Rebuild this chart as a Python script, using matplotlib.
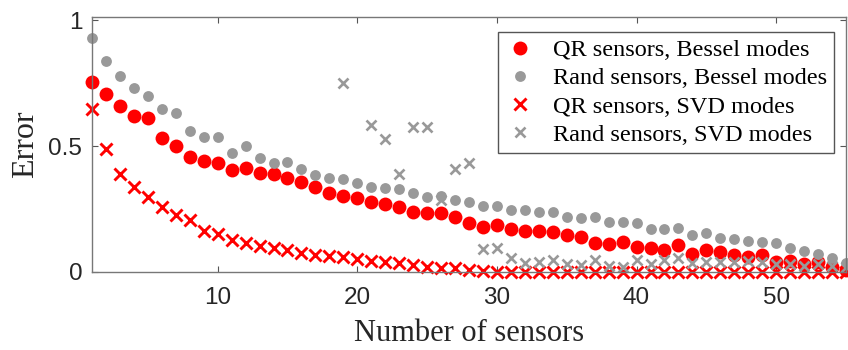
import numpy as np
import matplotlib
matplotlib.use('Agg')
import matplotlib.pyplot as plt

# number of sensors 1..55
n_sensors = list(range(1, 56))

# QR sensors, Bessel modes
qr_bessel = [0.755, 0.705, 0.659, 0.619, 0.612, 0.533, 0.501, 0.458, 0.440, 0.431,
             0.405, 0.414, 0.392, 0.388, 0.372, 0.358, 0.339, 0.315, 0.302, 0.292,
             0.279, 0.270, 0.259, 0.239, 0.235, 0.236, 0.219, 0.194, 0.177, 0.187,
             0.169, 0.163, 0.162, 0.159, 0.145, 0.140, 0.116, 0.111, 0.120, 0.098,
             0.094, 0.087, 0.107, 0.071, 0.087, 0.081, 0.066, 0.058, 0.068, 0.041,
             0.045, 0.032, 0.041, 0.020, 0.008]

# Rand sensors, Bessel modes
rand_bessel = [0.927, 0.837, 0.778, 0.729, 0.698, 0.646, 0.630, 0.560, 0.537, 0.537,
               0.474, 0.502, 0.451, 0.434, 0.435, 0.409, 0.385, 0.375, 0.368, 0.354,
               0.336, 0.332, 0.328, 0.312, 0.299, 0.303, 0.287, 0.279, 0.263, 0.261,
               0.245, 0.245, 0.237, 0.240, 0.219, 0.213, 0.217, 0.197, 0.197, 0.193,
               0.171, 0.171, 0.173, 0.147, 0.153, 0.134, 0.130, 0.125, 0.120, 0.114,
               0.094, 0.083, 0.071, 0.055, 0.036]

# QR sensors, SVD modes
qr_svd = [0.646, 0.487, 0.388, 0.339, 0.299, 0.259, 0.226, 0.206, 0.162, 0.149,
          0.128, 0.114, 0.103, 0.097, 0.088, 0.076, 0.068, 0.063, 0.058, 0.050,
          0.045, 0.041, 0.034, 0.028, 0.021, 0.017, 0.015, 0.008, 0.002, 0.001,
          0.001, 0.001, 0.001, 0.001, 0.001, 0.001, 0.001, 0.001, 0.001, 0.001,
          0.001, 0.001, 0.001, 0.001, 0.001, 0.001, 0.001, 0.001, 0.001, 0.001,
          0.001, 0.001, 0.001, 0.001, 0.001]

# Rand sensors, SVD modes (nan = off the chart)
nan = np.nan
rand_svd = [nan, nan, nan, nan, nan, nan, nan, nan, nan, nan,
            nan, nan, nan, nan, nan, nan, nan, nan, 0.751, nan,
            0.583, 0.527, 0.388, 0.577, 0.577, 0.287, 0.408, 0.431, 0.092, 0.094,
            0.054, 0.034, 0.041, 0.046, 0.030, 0.027, 0.046, 0.022, 0.021, 0.046,
            0.031, 0.048, 0.057, 0.036, 0.040, 0.041, 0.041, 0.045, 0.040, 0.030,
            0.030, 0.025, 0.030, 0.025, 0.020]

labels = ['QR sensors, Bessel modes', 'Rand sensors, Bessel modes',
          'QR sensors, SVD modes', 'Rand sensors, SVD modes']

red = '#ff0000'
grey = '#999999'
serif = ['Liberation Serif', 'DejaVu Serif']
narrow = ['Liberation Sans Narrow', 'Liberation Sans', 'DejaVu Sans']

fig = plt.figure(figsize=(8.48, 3.5), dpi=100)
ax = fig.add_axes([92/848, 78/350, 754/848, 255/350])

ax.plot(n_sensors, qr_bessel, 'o', color=red, markersize=10, markeredgewidth=0, clip_on=False, label=labels[0])
ax.plot(n_sensors, rand_bessel, 'o', color=grey, markersize=7.8, markeredgewidth=0, clip_on=False, label=labels[1])
ax.plot(n_sensors, qr_svd, 'x', color=red, markersize=8.5, markeredgewidth=2.1, clip_on=False, label=labels[2])
ax.plot(n_sensors, rand_svd, 'x', color=grey, markersize=7.0, markeredgewidth=1.9, clip_on=False, label=labels[3])

ax.set_xlim(1, 55)
ax.set_ylim(0, 1.012)
ax.set_xticks([10, 20, 30, 40, 50])
ax.set_yticks([0, 0.5, 1])
ax.set_yticklabels(['0', '0.5', '1'])

# MATLAB style box with inward ticks
ax.tick_params(direction='in', top=True, right=True, length=4, width=0.8,
               color='#555555', labelcolor='#262626')
ax.tick_params(axis='x', pad=11)
ax.tick_params(axis='y', pad=7)
for lab in ax.get_xticklabels() + ax.get_yticklabels():
    lab.set_family(narrow)
    lab.set_fontsize(17.5)
for s in ax.spines.values():
    s.set_color('#777777')
    s.set_linewidth(1.0)

ax.set_xlabel('Number of sensors', family=serif, fontsize=22, color='#262626', labelpad=7)
ax.set_ylabel('Error', family=serif, fontsize=23, color='#262626', labelpad=6)

leg = ax.legend(loc='upper right', bbox_to_anchor=(0.984, 0.941), borderaxespad=0,
                prop={'family': serif, 'size': 17.5}, labelspacing=0.25,
                handlelength=1.2, handletextpad=0.75, borderpad=0.3,
                fancybox=False, framealpha=1)
leg.get_frame().set_edgecolor('#555555')
leg.get_frame().set_linewidth(1.0)

plt.savefig('out.png', dpi=100)
